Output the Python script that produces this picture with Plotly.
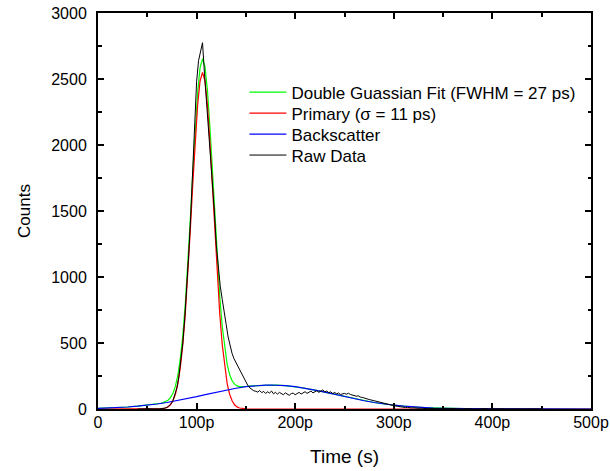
import plotly.graph_objects as go

# ---------------- data (time in ps, counts) ----------------
blue_t = [0, 10, 20, 30, 40, 50, 60, 70, 80, 90, 100, 110, 120, 130, 140, 150, 160, 170, 175,
          180, 190, 200, 210, 220, 230, 240, 250, 260, 270, 280, 290, 300, 310, 320, 330, 340,
          350, 360, 370, 380, 390, 400, 420, 450, 500]
blue_y = [4.9, 7.3, 10.6, 15.1, 21.1, 28.6, 38.0, 49.4, 62.6, 77.4, 93.5, 110.4, 127.2, 143.3,
          157.4, 169.0, 177.2, 181.5, 182.0, 181.5, 177.2, 169.0, 157.4, 143.3, 127.2, 110.4,
          93.5, 77.4, 62.6, 49.4, 38.0, 28.6, 21.1, 15.1, 10.6, 7.3, 4.9, 3.2, 2.1, 1.3, 0.8,
          0.5, 0.2, 0.0, 0.0]

peak_t = [61, 63.5, 66, 68.5, 71, 73.5, 76, 78.5, 81, 83.5, 86, 88.5, 91, 93.5, 96, 98.5,
          101, 103.5, 106, 108.5, 111, 113.5, 116, 118.5, 121, 123.5, 126, 128.5, 131, 133.5,
          136, 138.5, 141, 143.5, 146, 148.5, 151]

red_t = [0, 50] + peak_t + [160, 300, 500]
red_y = [0, 0] + [0.6, 1.5, 3.4, 7.6, 16, 32, 62, 112, 193, 315, 488, 719, 1006, 1337, 1687,
                  2021, 2300, 2485, 2550, 2485, 2300, 2021, 1687, 1337, 1006, 719, 488, 315,
                  193, 112, 62, 32, 16, 7.6, 3.4, 1.5, 0.6] + [0, 0, 0]

green_t = [0, 10, 20, 30, 40, 50, 55] + peak_t + [160, 170, 180, 190, 200, 210, 220, 230, 240,
           250, 260, 270, 280, 290, 300, 310, 320, 330, 340, 350, 360, 370, 380, 390, 400, 420,
           450, 500]
green_y = [4.9, 7.3, 10.6, 15.1, 21.1, 28.6, 33.1] + [40.1, 43.7, 48.4, 55.5, 66.9, 86, 119, 173,
           257, 383, 559, 794, 1085, 1420, 1774, 2112, 2395, 2584, 2653, 2593, 2412, 2137, 1807,
           1462, 1135, 852, 625, 456, 338, 261, 214, 188, 175, 170, 169, 170, 171] + [177.2,
           181.5, 181.5, 177.2, 169.0, 157.4, 143.3, 127.2, 110.4, 93.5, 77.4, 62.6, 49.4, 38.0,
           28.6, 21.1, 15.1, 10.6, 7.3, 4.9, 3.2, 2.1, 1.3, 0.8, 0.5, 0.2, 0.0, 0.0]

raw_t = list(range(40, 452, 2))
raw_y = [0, 1, 0, 2, 1, 0, 3, 2, 1, 0,            # 40-58
         2, 1, 3, 4, 7, 12, 22, 38, 64, 104,      # 60-78
         160, 245, 355, 500, 690, 910, 1170, 1460, 1770, 2120,   # 80-98
         2480, 2640, 2710, 2775, 2540, 2330, 2150, 1960, 1760, 1500,  # 100-118
         1240, 1060, 930, 830, 720, 640, 545, 470, 420, 380,   # 120-138
         352, 318, 285, 262, 232, 205, 178, 160, 148, 138,     # 140-158
         134, 128, 140, 124, 133, 118, 130, 121, 136, 115,     # 160-178
         127, 112, 126, 118, 108, 122, 111, 104, 117, 120,     # 180-198
         108, 119, 126, 113, 124, 131, 118, 127, 136, 122,     # 200-218
         130, 139, 126, 134, 145, 130, 136, 124, 130, 118,     # 220-238
         125, 116, 121, 110, 117, 118, 112, 119, 110, 106,     # 240-258
         101, 97, 100, 90, 88, 82, 79, 74, 70, 66,             # 260-278
         62, 57, 58, 52, 48, 44, 40, 36, 33, 28,               # 280-298
         25, 22, 20, 17, 16, 13, 11, 12, 9, 8,                 # 300-318
         9, 6, 7, 5, 6, 4, 5, 3, 4, 3,                         # 320-338
         2, 4, 2, 3, 1, 2, 3, 1, 2, 4,                         # 340-358
         1, 3, 2, 0, 2, 1, 3, 1, 0, 2,                         # 360-378
         1, 3, 0, 1, 2, 0, 1, 3, 0, 1,                         # 380-398
         2, 0, 1, 0, 2, 1, 0, 1, 0, 2,                         # 400-418
         0, 1, 0, 1, 0, 2, 0, 0, 1, 0,                         # 420-438
         0, 1, 0, 0, 0, 0]                                     # 440-450

x_tick_vals = [0, 100, 200, 300, 400, 500]
x_tick_text = ["0", "100p", "200p", "300p", "400p", "500p"]

names = ["Double Guassian Fit (FWHM = 27 ps)", "Primary (\u03c3 = 11 ps)", "Backscatter", "Raw Data"]
colors = ["#00ff00", "#ff0000", "#0000ff", "#000000"]
series = [(green_t, green_y), (red_t, red_y), (blue_t, blue_y), (raw_t, raw_y)]
legend_ids = ["legend", "legend2", "legend3", "legend4"]

# ---------------- figure ----------------
font_family = "Liberation Sans, Arial, sans-serif"
fig = go.Figure()
for (xs, ys), nm, col, lg in zip(series, names, colors, legend_ids):
    fig.add_trace(go.Scatter(x=xs, y=ys, mode="lines", name=nm, legend=lg,
                             line=dict(color=col, width=1.2 if col != "#000000" else 1)))

axis_common = dict(showline=True, linecolor="black", linewidth=2, mirror="allticks",
                   ticks="inside", ticklen=6, tickwidth=1.5, tickcolor="black",
                   showgrid=False, zeroline=False,
                   tickfont=dict(family=font_family, size=16, color="black"))

fig.update_xaxes(range=[0, 500], tickvals=x_tick_vals, ticktext=x_tick_text,
                 minor=dict(ticks="inside", ticklen=3.5, tickwidth=1.5, dtick=50, tickcolor="black",
                            tick0=0, showgrid=False),
                 title=dict(text="Time (s)", font=dict(family=font_family, size=19, color="black"),
                            standoff=19),
                 ticklabelstandoff=-2,
                 **axis_common)
fig.update_yaxes(range=[0, 3000], dtick=500, tick0=0,
                 minor=dict(ticks="inside", ticklen=3.5, tickwidth=1.5, dtick=250, tickcolor="black",
                            tick0=0, showgrid=False),
                 title=dict(text="Counts", font=dict(family=font_family, size=17, color="black"),
                            standoff=16),
                 ticklabelstandoff=6,
                 **axis_common)

legend_style = dict(xanchor="left", yanchor="middle", bgcolor="rgba(0,0,0,0)", borderwidth=0,
                    font=dict(family=font_family, size=17, color="black"), x=0.297,
                    itemwidth=37)
row_centers_px = [92.5, 113.5, 134.5, 155.5]
layout_legends = {}
for lg, yc in zip(legend_ids, row_centers_px):
    layout_legends[lg] = dict(legend_style, y=(409 - yc) / 396)

fig.update_layout(
    width=610, height=471,
    margin=dict(l=98, r=19, t=13, b=62, autoexpand=False),
    paper_bgcolor="white", plot_bgcolor="white",
    showlegend=True,
    font=dict(family=font_family, color="black"),
    **layout_legends,
)

fig.write_html("out.html", config={"displayModeBar": False},
               post_script="document.body.style.margin='0';document.body.style.padding='0';")
